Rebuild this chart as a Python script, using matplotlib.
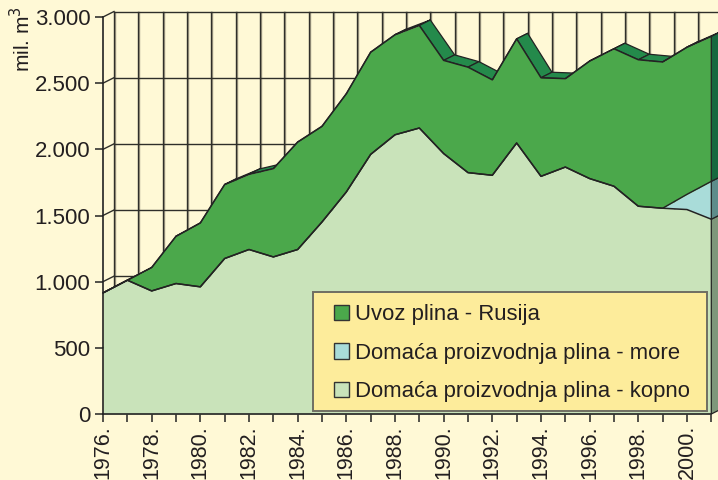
import matplotlib
matplotlib.use("Agg")
import matplotlib.pyplot as plt
from matplotlib.patches import Polygon, Patch, Rectangle
import numpy as np

plt.rcParams['font.family'] = ['Liberation Sans', 'DejaVu Sans']

# ---- data ----
years = list(range(1976, 2002))
kopno = [915, 1011, 930, 986, 961, 1175, 1243, 1187, 1243, 1451, 1678, 1962, 2110,
         2161, 1968, 1824, 1804, 2048, 1796, 1866, 1779, 1721, 1570, 1555, 1545, 1472]
more = [0, 0, 0, 0, 0, 0, 0, 0, 0, 0, 0, 0, 0,
        0, 0, 0, 0, 0, 0, 0, 0, 0, 0, 0, 115, 286]
rusija = [0, 0, 177, 357, 483, 559, 568, 667, 812, 723, 742, 772, 756,
          775, 704, 797, 721, 787, 745, 668, 888, 1039, 1107, 1105, 1112, 1095]
series_names = ["Uvoz plina - Rusija", "Domaća proizvodnja plina - more",
                "Domaća proizvodnja plina - kopno"]
ytick_vals = [0, 500, 1000, 1500, 2000, 2500, 3000]
ytick_labels = ["0", "500", "1.000", "1.500", "2.000", "2.500", "3.000"]
xtick_years = list(range(1976, 2001, 2))
xtick_labels = [f"{y}." for y in xtick_years]

# ---- style ----
BG = '#FFF9D6'
C_KOP = '#C9E3BA'
C_MORE = '#A9DCD9'
C_RUS = '#4BA84B'
C_ROOF = '#248A4B'
S_RUS = '#17693F'
S_MORE = '#5E8C8A'
S_KOP = '#7E977A'
LINE = '#232323'
TXT = '#231F20'

W, H = 718, 480
fig = plt.figure(figsize=(W / 100, H / 100), dpi=100, facecolor=BG)
x0, x1 = 103, 711.3
y0, y1 = 414, 17
ax = fig.add_axes([x0 / W, (H - y0) / H, (x1 - x0) / W, (y0 - y1) / H])
ax.set_xlim(years[0], years[-1])
ax.set_ylim(0, 3000)
ax.patch.set_visible(False)

px_per_year = (x1 - x0) / (years[-1] - years[0])
px_per_unit = (y0 - y1) / 3000
dx = 11 / px_per_year
dy = 5.5 / px_per_unit

x = np.array(years, dtype=float)
k = np.array(kopno, dtype=float)
m = k + np.array(more, dtype=float)
t = m + np.array(rusija, dtype=float)

# back wall grid
gl = dict(color='#2f2f2a', lw=1.0, clip_on=False, zorder=1)
for v in ytick_vals:
    ax.plot([x[0] + dx, x[-1] + dx], [v + dy, v + dy], **gl)
    ax.plot([x[0], x[0] + dx], [v, v + dy], **gl)
for yr in years:
    ax.plot([yr + dx + 0.04, yr + dx + 0.04], [dy, 3000 + dy], color='#a39d85', lw=1.0,
            clip_on=False, zorder=0.9)
    ax.plot([yr + dx, yr + dx], [dy, 3000 + dy], **gl)

# roof of the top series
for i in range(len(x) - 1):
    poly = [(x[i], t[i]), (x[i + 1], t[i + 1]), (x[i + 1] + dx, t[i + 1] + dy), (x[i] + dx, t[i] + dy)]
    ax.add_patch(Polygon(poly, closed=True, facecolor=C_ROOF, edgecolor=LINE, lw=0.9,
                         clip_on=False, zorder=2, joinstyle='round'))

# front faces
ax.fill_between(x, 0, k, color=C_KOP, lw=0, zorder=3)
ax.fill_between(x, k, m, color=C_MORE, lw=0, zorder=3)
ax.fill_between(x, m, t, color=C_RUS, lw=0, zorder=3)
ax.plot(x, k, color=LINE, lw=1.1, zorder=4)
ax.plot(x, m, color=LINE, lw=1.0, zorder=4)
ax.plot(x, t, color=LINE, lw=1.1, zorder=4, clip_on=False)

# right side faces
for lo, hi, c in [(0, k[-1], S_KOP), (k[-1], m[-1], S_MORE), (m[-1], t[-1], S_RUS)]:
    poly = [(x[-1], lo), (x[-1], hi), (x[-1] + dx, hi + dy), (x[-1] + dx, lo + dy)]
    ax.add_patch(Polygon(poly, closed=True, facecolor=c, edgecolor=LINE, lw=0.9,
                         clip_on=False, zorder=3.5))

# axes styling
for s in ['top', 'right']:
    ax.spines[s].set_visible(False)
for s in ['left', 'bottom']:
    ax.spines[s].set_color(LINE)
    ax.spines[s].set_linewidth(1.2)
    ax.spines[s].set_zorder(5)
ax.set_yticks(ytick_vals)
ax.set_yticklabels(ytick_labels)
ax.set_xticks(years, minor=True)
ax.set_xticks(xtick_years)
ax.set_xticklabels(xtick_labels, rotation=90, va='top', ha='center')
ax.tick_params(axis='y', direction='out', length=6, width=1.1, color=LINE, pad=3,
               labelsize=16, labelcolor=TXT)
ax.tick_params(axis='x', which='both', direction='out', length=6, width=1.1, color=LINE,
               pad=2, labelsize=15.5, labelcolor=TXT)

fig.text(22 / W, 1 - 39 / H, "mil. m$^3$", rotation=90, ha='center', va='center',
         fontsize=15, color=TXT)

# legend
lx0, lx1, ly0, ly1 = 312.7, 706.7, 291.7, 410.7
fig.patches.append(Rectangle((lx0 / W, 1 - ly1 / H), (lx1 - lx0) / W, (ly1 - ly0) / H,
                             transform=fig.transFigure, facecolor='#FDEC9B',
                             edgecolor='#6f6e62', lw=1.4, zorder=10))
handles = [Patch(facecolor=C_RUS, edgecolor='#333333', lw=1.0),
           Patch(facecolor=C_MORE, edgecolor='#333333', lw=1.0),
           Patch(facecolor=C_KOP, edgecolor='#333333', lw=1.0)]
leg = fig.legend(handles, series_names, loc='upper left',
                 bbox_to_anchor=(334.3 / W, 1 - 304 / H), frameon=False,
                 fontsize=15.9, borderpad=0, borderaxespad=0, handlelength=0.68,
                 handleheight=0.68, handletextpad=0.27, labelspacing=0.8)
for tx in leg.get_texts():
    tx.set_color(TXT)
leg.set_zorder(11)

fig.savefig("out.png", dpi=100, facecolor=BG)
